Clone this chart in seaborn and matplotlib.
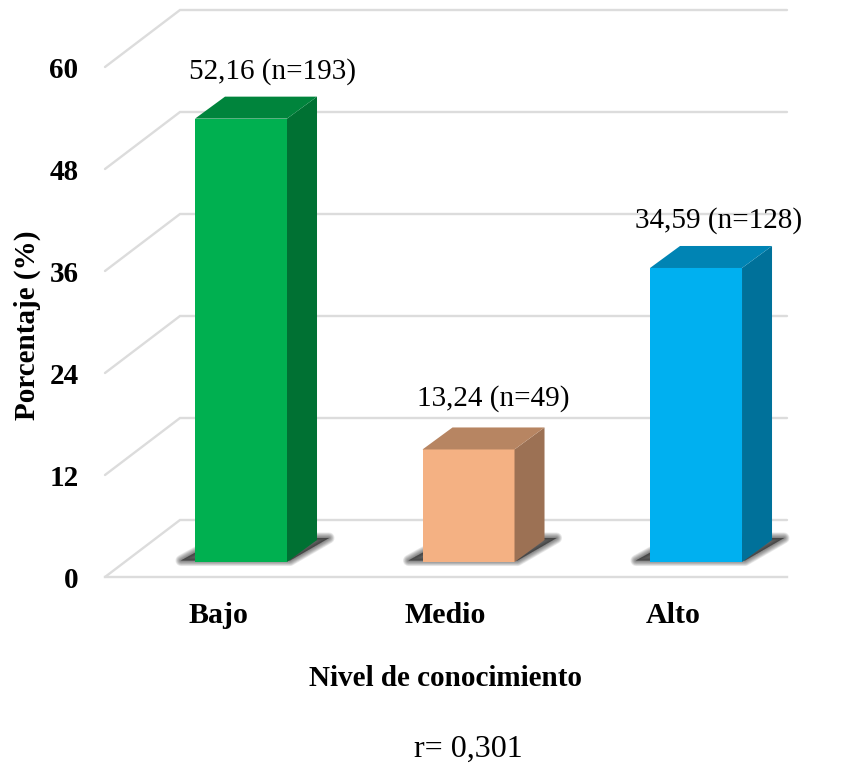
import numpy as np
import pandas as pd
import matplotlib
matplotlib.use("Agg")
import matplotlib.pyplot as plt
from matplotlib.patches import Polygon
from matplotlib.colors import to_rgb
import seaborn as sns

categories = ["Bajo", "Medio", "Alto"]
percentages = [52.16, 13.24, 34.59]
counts = [193, 49, 128]
palette = ["#00B050", "#F4B183", "#00B0F0"]
yticks = [0, 12, 24, 36, 48, 60]
label_offsets_px = [(31, 47), (25, 51), (23, 47)]

W, H = 851, 764
sns.set_theme(style="white")
plt.rcParams["font.family"] = ["Liberation Serif", "DejaVu Serif"]

fig = plt.figure(figsize=(W / 100, H / 100), dpi=100)
ax = fig.add_axes([105 / W, 1 - 577 / H, (787 - 105) / W, (577 - 67) / H])

df = pd.DataFrame({"Nivel": categories, "Porcentaje": percentages})
sns.barplot(data=df, x="Nivel", y="Porcentaje", hue="Nivel", palette=palette,
            width=92 / 227.5, saturation=1, legend=False, ax=ax, zorder=5,
            edgecolor="none", linewidth=0)

ax.set_xlim(-0.4967, 2.501)
ax.set_ylim(0, 60)
ux = 1 / 227.5   # data units per pixel, horizontal
uy = 60 / 510    # data units per pixel, vertical

GRID = "#DCDCDC"
wall_dx, wall_dy = 75 * ux, 57 * uy
for t in yticks:
    ax.plot([ax.get_xlim()[0], ax.get_xlim()[0] + wall_dx, ax.get_xlim()[1]],
            [t, t + wall_dy, t + wall_dy], color=GRID, lw=1.7, zorder=1,
            clip_on=False, solid_capstyle="round", solid_joinstyle="miter")

def shade(c, f):
    return tuple(v * f for v in to_rgb(c))

bar_dx, bar_dy = 23 * ux, 15 * uy      # front plane of the bars
dep_dx, dep_dy = 30 * ux, 22 * uy      # depth of the bars

for patch, colour, v, n, off in zip(ax.patches, palette, percentages, counts, label_offsets_px):
    patch.set_x(patch.get_x() + bar_dx)
    patch.set_y(bar_dy)
    patch.set_clip_on(False)
    x0, x1 = patch.get_x(), patch.get_x() + patch.get_width()
    y0, y1 = bar_dy, bar_dy + v
    # soft floor shadow: stacked translucent outlines fade outward
    sh = [(x0 - 14 * ux, y0 + 1.5 * uy), (x1 + 3 * ux, y0 + 1.5 * uy),
          (x1 + 42 * ux, y0 + 24 * uy), (x0 + 27 * ux, y0 + 24 * uy)]
    for lw in [8, 7, 6, 5, 4, 3, 2, 1, 0.3]:
        a = 0.085
        ax.add_patch(Polygon(sh, closed=True, facecolor=(0.1, 0.1, 0.1, a),
                             edgecolor=(0.1, 0.1, 0.1, a), lw=lw, zorder=3,
                             clip_on=False, joinstyle="round"))
    ax.add_patch(Polygon([(x1, y0), (x1 + dep_dx, y0 + dep_dy), (x1 + dep_dx, y1 + dep_dy), (x1, y1)],
                         closed=True, color=shade(colour, 0.64), lw=0, zorder=5, clip_on=False))
    ax.add_patch(Polygon([(x0, y1), (x1, y1), (x1 + dep_dx, y1 + dep_dy), (x0 + dep_dx, y1 + dep_dy)],
                         closed=True, color=shade(colour, 0.75), lw=0, zorder=5, clip_on=False))
    ax.annotate(f"{v:.2f}".replace(".", ",") + f" (n={n})",
                xy=((x0 + x1) / 2, y1), xycoords="data",
                xytext=(off[0] * 0.72, off[1] * 0.72), textcoords="offset points",
                ha="center", va="center", fontsize=21, color="black", zorder=6)

sns.despine(ax=ax, left=True, top=True, right=True)
ax.spines["bottom"].set_color(GRID)
ax.spines["bottom"].set_linewidth(1.7)
ax.set_yticks(yticks)
ax.tick_params(axis="both", length=0)
ax.tick_params(axis="y", pad=19)
ax.tick_params(axis="x", pad=18)
ax.set_xticks(range(len(categories)))
ax.set_xticklabels(categories, fontsize=21.5, fontweight="bold", color="black")
ax.set_yticklabels([str(t) for t in yticks], fontsize=21, fontweight="bold", color="black")
ax.set_xlabel("")
ax.set_ylabel("")
fig.text(27.5 / W, 1 - 325 / H, "Porcentaje (%)", rotation=90, ha="center", va="center",
         fontsize=21, fontweight="bold", color="black")
fig.text(445.5 / W, 1 - 679 / H, "Nivel de conocimiento", ha="center", va="center",
         fontsize=21, fontweight="bold", color="black")
fig.text(468 / W, 1 - 749 / H, "r= 0,301", ha="center", va="center",
         fontsize=23, color="black")

fig.savefig("out.png", dpi=100, facecolor="white")
